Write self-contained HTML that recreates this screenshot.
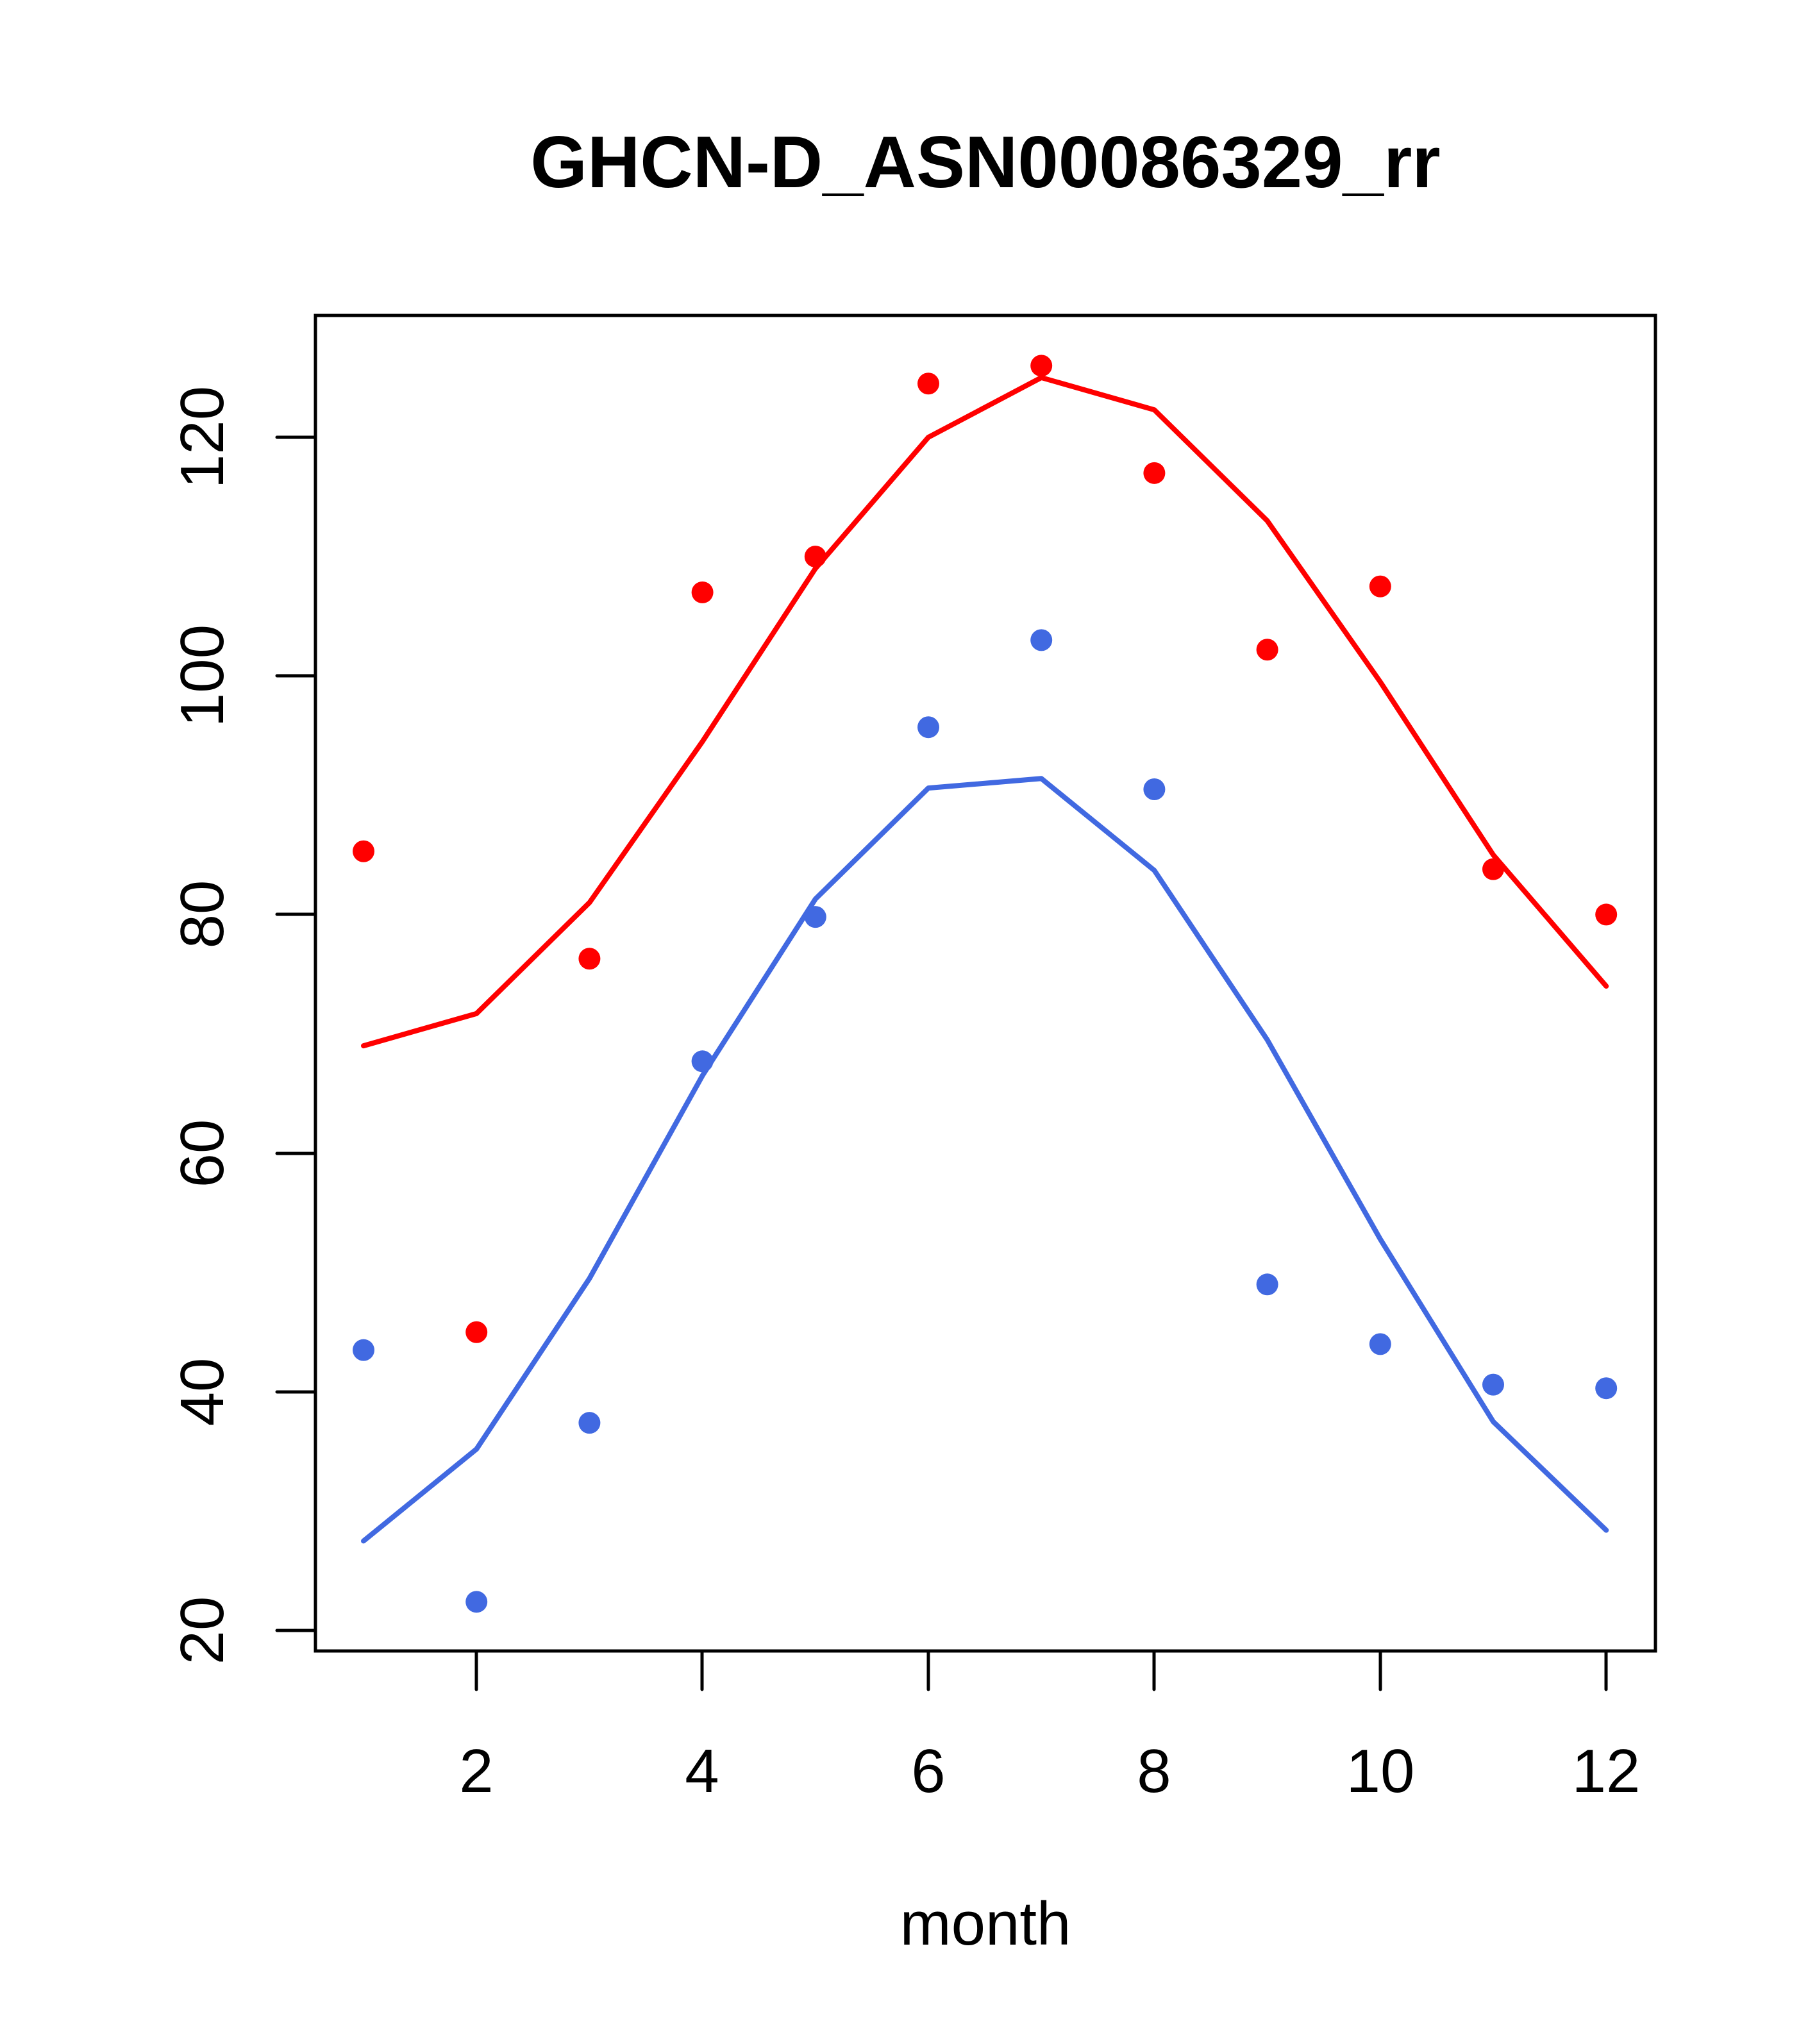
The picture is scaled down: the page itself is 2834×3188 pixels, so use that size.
<!DOCTYPE html>
<html><head><meta charset="utf-8"><style>html,body{margin:0;padding:0;background:#fff}svg{display:block}</style></head>
<body>
<svg width="2834" height="3188" viewBox="0 0 2834 3188" xmlns="http://www.w3.org/2000/svg" font-family="Liberation Sans, sans-serif">
<rect width="2834" height="3188" fill="#fff"/>
<text x="1537" y="292" font-size="114" font-weight="bold" text-anchor="middle">GHCN-D_ASN00086329_rr</text>
<rect x="492" y="492" width="2090" height="2083" fill="none" stroke="#000" stroke-width="5"/>
<g stroke="#000" stroke-width="5" stroke-linecap="round">
<line x1="743" y1="2575" x2="743" y2="2635"/>
<line x1="1095" y1="2575" x2="1095" y2="2635"/>
<line x1="1448" y1="2575" x2="1448" y2="2635"/>
<line x1="1800" y1="2575" x2="1800" y2="2635"/>
<line x1="2153" y1="2575" x2="2153" y2="2635"/>
<line x1="2505" y1="2575" x2="2505" y2="2635"/>
<line x1="432" y1="682" x2="492" y2="682"/>
<line x1="432" y1="1054" x2="492" y2="1054"/>
<line x1="432" y1="1426" x2="492" y2="1426"/>
<line x1="432" y1="1799" x2="492" y2="1799"/>
<line x1="432" y1="2171" x2="492" y2="2171"/>
<line x1="432" y1="2543" x2="492" y2="2543"/>
</g>
<g font-size="96" text-anchor="middle">
<text x="743" y="2795">2</text><text x="1095" y="2795">4</text><text x="1448" y="2795">6</text>
<text x="1800" y="2795">8</text><text x="2153" y="2795">10</text><text x="2505" y="2795">12</text>
<text transform="translate(348,682) rotate(-90)">120</text>
<text transform="translate(348,1054) rotate(-90)">100</text>
<text transform="translate(348,1426) rotate(-90)">80</text>
<text transform="translate(348,1799) rotate(-90)">60</text>
<text transform="translate(348,2171) rotate(-90)">40</text>
<text transform="translate(348,2543) rotate(-90)">20</text>
<text x="1537" y="3033">month</text>
</g>
<g transform="matrix(176.2,0,0,-18.61,390.8,2915.2)" fill="none" stroke-linecap="round" stroke-linejoin="round">
<polyline vector-effect="non-scaling-stroke" stroke="#f00" stroke-width="8" points="1,69 2,71.7 3,81 4,94.5 5,109 6,120 7,125 8,122.3 9,113 10,99.5 11,85 12,74"/>
<polyline vector-effect="non-scaling-stroke" stroke="#4169e1" stroke-width="8" points="1,27.5 2,35.2 3,49.5 4,66.5 5,81.3 6,90.6 7,91.4 8,83.7 9,69.5 10,52.8 11,37.5 12,28.4"/>
<path vector-effect="non-scaling-stroke" stroke="#f00" stroke-width="34" d="M1,85.3h0M2,45h0M3,76.3h0M4,107h0M5,110h0M6,124.5h0M7,126h0M8,117h0M9,102.2h0M10,107.5h0M11,83.8h0M12,80h0"/>
<path vector-effect="non-scaling-stroke" stroke="#4169e1" stroke-width="34" d="M1,43.5h0M2,22.4h0M3,37.4h0M4,67.7h0M5,79.8h0M6,95.7h0M7,103h0M8,90.5h0M9,49h0M10,44h0M11,40.6h0M12,40.3h0"/>
</g>
</svg>
</body></html>
